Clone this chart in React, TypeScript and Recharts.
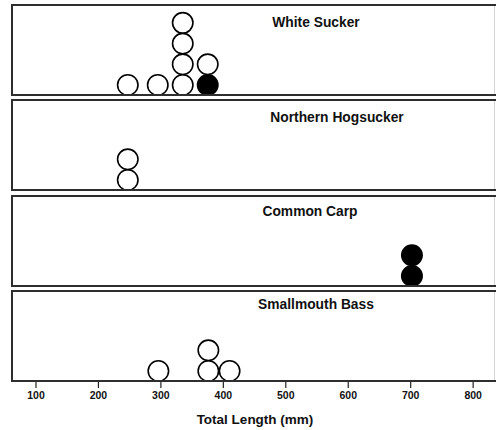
import { Scatter, ScatterChart, XAxis, YAxis } from "recharts";

// Total length (mm) of each fish, one entry per fish.
const WHITE_SUCKER_TL = [247, 295, 335, 335, 335, 335, 375, 375];
const WHITE_SUCKER_MARKED = [false, false, false, false, false, false, true, false];

const NORTHERN_HOGSUCKER_TL = [247, 247];
const NORTHERN_HOGSUCKER_MARKED = [false, false];

const COMMON_CARP_TL = [702, 702];
const COMMON_CARP_MARKED = [true, true];

const SMALLMOUTH_BASS_TL = [296, 376, 376, 410];
const SMALLMOUTH_BASS_MARKED = [false, false, false, false];

const SPECIES = ["White Sucker", "Northern Hogsucker", "Common Carp", "Smallmouth Bass"];
const X_TICKS = [100, 200, 300, 400, 500, 600, 700, 800];
const X_LABEL = "Total Length (mm)";

const X_DOMAIN: [number, number] = [60, 835];
const Y_DOMAIN: [number, number] = [-0.53, 3.91];

const PLOT_LEFT = 11;
const PLOT_WIDTH = 484;
const PANEL_HEIGHT = 92;
const AXIS_HEIGHT = 48;
const FONT = "'Liberation Sans', Arial, sans-serif";

// panel top edge and title placement (centre x, baseline y)
const PANEL_LAYOUT = [
  { top: 4, titleX: 316, titleY: 27 },
  { top: 99, titleX: 337, titleY: 122 },
  { top: 195, titleX: 310, titleY: 216 },
  { top: 290, titleX: 316, titleY: 308.5 },
];

type Dot = { x: number; y: number; marked: boolean };

// stack repeated lengths on top of each other, like a dot plot
function stackDots(lengths: number[], marked: boolean[]): Dot[] {
  const seen = new Map<number, number>();
  return lengths.map((len, i) => {
    const level = seen.get(len) ?? 0;
    seen.set(len, level + 1);
    return { x: len, y: level, marked: marked[i] };
  });
}

const PANELS: Dot[][] = [
  stackDots(WHITE_SUCKER_TL, WHITE_SUCKER_MARKED),
  stackDots(NORTHERN_HOGSUCKER_TL, NORTHERN_HOGSUCKER_MARKED),
  stackDots(COMMON_CARP_TL, COMMON_CARP_MARKED),
  stackDots(SMALLMOUTH_BASS_TL, SMALLMOUTH_BASS_MARKED),
];

function DotShape(props: any) {
  const { cx, cy, payload } = props;
  if (cx == null || cy == null) return null;
  return (
    <circle
      cx={cx}
      cy={cy}
      r={10.2}
      fill={payload?.marked ? "#000" : "#fff"}
      stroke="#000"
      strokeWidth={1.6}
    />
  );
}

function Panel({ dots, index, withAxis }: { dots: Dot[]; index: number; withAxis: boolean }) {
  const { top } = PANEL_LAYOUT[index];
  const height = PANEL_HEIGHT + (withAxis ? AXIS_HEIGHT : 0);
  return (
    <div style={{ position: "absolute", left: PLOT_LEFT, top, width: PLOT_WIDTH, height }}>
      <ScatterChart
        width={PLOT_WIDTH}
        height={height}
        margin={{ top: 0, right: 0, bottom: 0, left: 0 }}
        style={{ overflow: "visible" }}
      >
        <XAxis
          type="number"
          dataKey="x"
          domain={X_DOMAIN}
          ticks={X_TICKS}
          hide={!withAxis}
          height={AXIS_HEIGHT}
          axisLine={false}
          tickLine={{ stroke: "#222", strokeWidth: 1.2 }}
          tickSize={6}
          tickMargin={4}
          interval={0}
          tick={{ fill: "#111", fontSize: 10.5, fontWeight: 700, fontFamily: FONT }}
          label={{
            value: X_LABEL,
            position: "insideBottom",
            offset: 6,
            dx: 2,
            fill: "#111",
            fontSize: 13.5,
            fontWeight: 700,
            fontFamily: FONT,
          }}
          allowDataOverflow
        />
        <YAxis type="number" dataKey="y" domain={Y_DOMAIN} hide allowDataOverflow />
        <Scatter data={dots} shape={DotShape} isAnimationActive={false} />
      </ScatterChart>
    </div>
  );
}

export default function App() {
  return (
    <div
      style={{
        position: "absolute",
        left: 0,
        top: 0,
        width: 496,
        height: 430,
        overflow: "hidden",
        background: "#fff",
        fontFamily: FONT,
      }}
    >
      {PANELS.map((dots, i) => (
        <Panel key={SPECIES[i]} dots={dots} index={i} withAxis={i === PANELS.length - 1} />
      ))}
      <svg
        width={496}
        height={430}
        style={{ position: "absolute", left: 0, top: 0, pointerEvents: "none" }}
      >
        {PANEL_LAYOUT.map(({ top, titleX, titleY }, i) => (
          <g key={SPECIES[i]}>
            {/* frame runs past the right edge, as the panels continue off to the side */}
            <rect
              x={PLOT_LEFT + 1}
              y={top + 1}
              width={PLOT_WIDTH + 10}
              height={PANEL_HEIGHT - 2}
              fill="none"
              stroke="#2e2e2e"
              strokeWidth={2}
            />
            <line
              x1={494.5}
              x2={494.5}
              y1={top + 2}
              y2={top + PANEL_HEIGHT - 2}
              stroke="#d4d4d4"
              strokeWidth={1}
            />
            <text
              x={titleX}
              y={titleY}
              textAnchor="middle"
              fontSize={13.8}
              fontWeight={700}
              fontFamily={FONT}
              fill="#111"
            >
              {SPECIES[i]}
            </text>
          </g>
        ))}
      </svg>
    </div>
  );
}
